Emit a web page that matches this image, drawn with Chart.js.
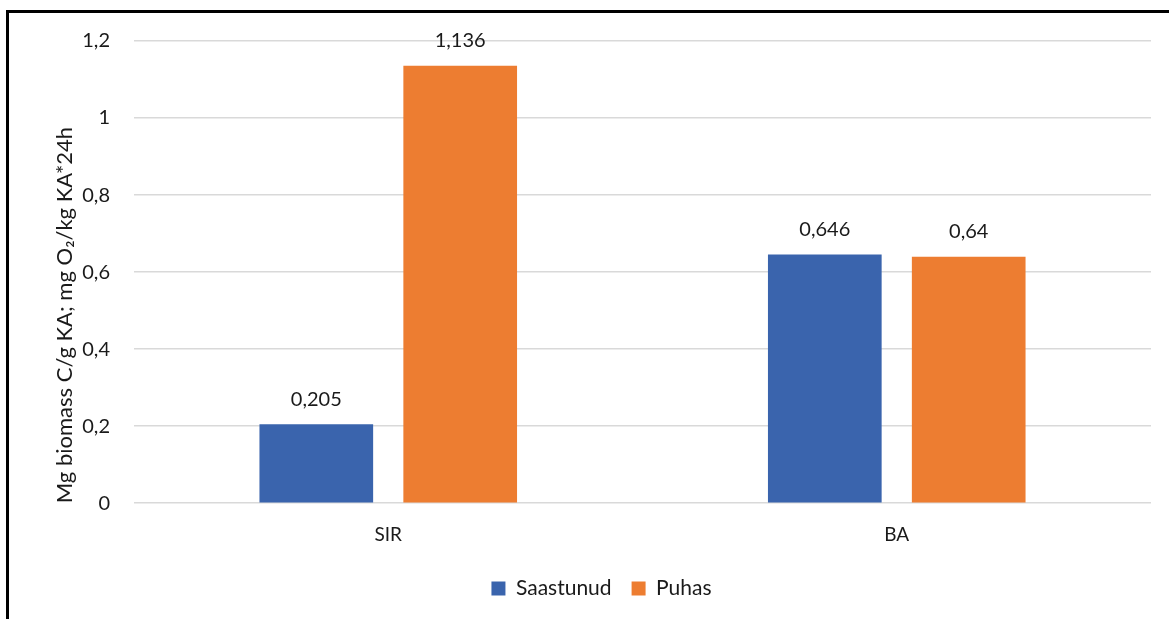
<!DOCTYPE html>
<html>
<head>
<meta charset="utf-8">
<script src="https://cdn.jsdelivr.net/npm/chart.js@4"></script>
<style>
  html, body { margin: 0; padding: 0; background: #fff; }
  #wrap { position: relative; width: 1169px; height: 619px; overflow: hidden; }
  #frame { position: absolute; left: 6px; top: 10px; width: 1200px; height: 700px;
           border-left: 3px solid #000; border-top: 3px solid #000; }
  canvas { position: absolute; left: 0; top: 0; }
</style>
</head>
<body>
<div id="wrap">
  <div id="frame"></div>
  <canvas id="chart" width="1169" height="619"></canvas>
</div>
<script>
const categories = ['SIR', 'BA']
const saastunud = [0.205, 0.646]
const puhas = [1.136, 0.64]
const seriesNames = ['Saastunud', 'Puhas']
const yTicks = [0, 0.2, 0.4, 0.6, 0.8, 1, 1.2]

const fontFam = 'Lato, "Open Sans", sans-serif'
const comma = v => String(Math.round(v * 1000) / 1000).replace('.', ',')

// numbers above bars
const barLabels = {
  id: 'barLabels',
  afterDatasetsDraw(chart) {
    const ctx = chart.ctx
    ctx.save()
    ctx.font = '20px ' + fontFam
    ctx.fillStyle = '#1a1a1a'
    ctx.textAlign = 'center'
    ctx.textBaseline = 'middle'
    chart.data.datasets.forEach((ds, i) => {
      chart.getDatasetMeta(i).data.forEach((bar, j) => {
        ctx.fillText(comma(ds.data[j]), bar.x, bar.y - 25)
      })
    })
    ctx.restore()
  }
}

new Chart(document.getElementById('chart'), {
  type: 'bar',
  data: {
    labels: categories,
    datasets: [
      { label: seriesNames[0], data: saastunud, backgroundColor: '#3A64AD' },
      { label: seriesNames[1], data: puhas, backgroundColor: '#ED7D31' }
    ]
  },
  options: {
    responsive: false,
    animation: false,
    categoryPercentage: 0.566,
    barPercentage: 0.79,
    layout: { padding: { left: 52, right: 18, top: 41, bottom: 10 } },
    plugins: {
      legend: {
        position: 'bottom',
        labels: {
          boxWidth: 14, boxHeight: 14, padding: 20,
          color: '#1a1a1a',
          font: { family: fontFam, size: 21 }
        }
      },
      tooltip: { enabled: false }
    },
    scales: {
      x: {
        grid: { display: false },
        border: { display: false },
        ticks: { color: '#1a1a1a', padding: 12, font: { family: fontFam, size: 19 } }
      },
      y: {
        min: 0, max: 1.2,
        afterBuildTicks: s => { s.ticks = yTicks.map(v => ({ value: v })) },
        afterFit: s => { s.width = 82 },
        grid: { color: '#d9d9d9', lineWidth: 1.5, drawTicks: false },
        border: { display: false },
        ticks: {
          color: '#1a1a1a', padding: 24,
          font: { family: fontFam, size: 20 },
          callback: v => comma(v)
        },
        title: {
          display: true,
          align: 'start',
          text: 'Mg biomass C/g KA; mg O₂/kg KA*24h',
          color: '#1a1a1a',
          padding: { top: 0, bottom: 0 },
          font: { family: fontFam, size: 22 }
        }
      }
    }
  },
  plugins: [barLabels]
})
</script>
</body>
</html>
